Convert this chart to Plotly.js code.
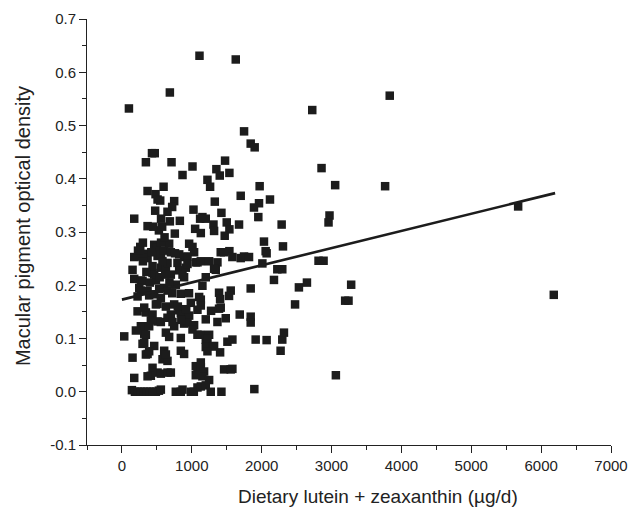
<!DOCTYPE html>
<html>
<head>
<meta charset="utf-8">
<script src="https://cdn.plot.ly/plotly-3.0.1.min.js"></script>
<style>html,body{margin:0;padding:0;background:#fff}#chart{width:638px;height:508px}</style>
</head>
<body>
<div id="chart"></div>
<script>
// Dietary lutein + zeaxanthin (µg/d)
var intakeX = [
100,686,1110,1629,2724,3833,1748,1843,1900,2857,3052,3767,2971,2957,5671,2814,2886,3281,3195,3243,3062,6181,
343,430,470,710,867,1010,1224,1262,1352,1400,1476,1538,1329,1700,1971,2119,1962,1890,1952,2286,1676,2033,2305,2057,
176,367,481,510,596,548,748,719,476,652,367,529,576,686,829,757,1024,1048,1129,1152,1200,1310,1319,1424,1500,1538,1471,1119,
262,462,500,676,962,1010,1033,1414,1462,1538,1581,1700,1748,1819,2071,2010,
176,248,319,367,420,510,560,600,700,760,820,890,938,1057,1081,1129,1248,1367,1343,1319,2224,2295,2176,2533,2648,2478,
152,176,271,295,438,438,462,486,557,629,652,700,795,819,867,890,914,938,1200,1152,771,605,533,652,843,248,271,367,390,224,462,557,1105,1129,1390,1405,1557,1533,1843,
224,343,319,486,510,629,438,700,748,819,843,867,962,986,1081,1129,1276,1390,1414,1367,1486,1686,1843,1843,414,510,557,652,724,748,890,938,1033,1200,271,390,
33,200,319,343,629,676,843,1010,1081,1129,1200,1248,1224,1510,1581,1914,2071,2295,2319,2271,295,319,462,605,843,890,1200,1295,1319,1405,1224,152,343,367,581,652,629,390,
438,414,367,510,557,652,700,176,1057,1081,1129,1129,1176,1152,1248,1462,1557,1581,1057,
143,186,229,271,314,357,400,443,486,529,557,771,843,867,986,1029,1081,1129,1200,1271,1424,1895,
230,300,350,400,540,580,620,680,720,800,850,920,960,560,610,300,450,560
];
// Macular pigment optical density
var mpodY = [
0.532,0.562,0.631,0.624,0.529,0.556,0.489,0.466,0.459,0.420,0.388,0.386,0.331,0.318,0.348,0.246,0.246,0.201,0.171,0.171,0.031,0.182,
0.431,0.448,0.448,0.431,0.407,0.423,0.398,0.385,0.418,0.406,0.434,0.411,0.357,0.368,0.386,0.361,0.354,0.346,0.328,0.314,0.314,0.282,0.273,0.264,
0.325,0.377,0.371,0.361,0.385,0.359,0.358,0.347,0.340,0.338,0.311,0.303,0.310,0.320,0.321,0.297,0.342,0.306,0.298,0.328,0.325,0.314,0.302,0.336,0.318,0.305,0.293,0.325,
0.272,0.276,0.270,0.278,0.278,0.272,0.262,0.262,0.262,0.264,0.253,0.251,0.254,0.253,0.260,0.241,
0.253,0.254,0.259,0.251,0.262,0.255,0.258,0.265,0.262,0.260,0.258,0.253,0.254,0.243,0.243,0.245,0.245,0.243,0.229,0.231,0.230,0.230,0.210,0.196,0.205,0.164,
0.229,0.212,0.209,0.208,0.236,0.223,0.220,0.209,0.233,0.234,0.242,0.220,0.242,0.228,0.220,0.215,0.233,0.240,0.215,0.199,0.201,0.195,0.193,0.190,0.184,0.195,0.190,0.189,0.181,0.179,0.183,0.176,0.178,0.173,0.186,0.174,0.190,0.180,0.194,
0.151,0.149,0.158,0.164,0.165,0.160,0.145,0.145,0.164,0.153,0.148,0.151,0.143,0.167,0.154,0.162,0.152,0.156,0.158,0.131,0.138,0.145,0.141,0.130,0.134,0.132,0.131,0.139,0.131,0.123,0.128,0.130,0.125,0.136,0.123,0.123,
0.104,0.115,0.109,0.107,0.111,0.103,0.101,0.117,0.107,0.107,0.098,0.107,0.099,0.094,0.098,0.098,0.097,0.098,0.111,0.077,0.090,0.092,0.086,0.077,0.077,0.071,0.084,0.085,0.086,0.074,0.076,0.064,0.070,0.071,0.061,0.058,0.070,0.076,
0.045,0.030,0.029,0.036,0.034,0.036,0.036,0.026,0.048,0.042,0.055,0.046,0.038,0.029,0.022,0.042,0.042,0.043,0.031,
0.003,0.000,0.000,0.000,0.000,0.000,0.000,0.000,0.000,0.002,0.004,0.000,0.000,0.004,0.000,0.000,0.008,0.010,0.012,0.000,0.000,0.005,
0.265,0.245,0.225,0.205,0.215,0.245,0.220,0.205,0.185,0.160,0.135,0.155,0.185,0.280,0.290,0.280,0.310,0.325
];
// Regression line end points
var fitX = [0, 6200];
var fitY = [0.173, 0.373];

var xTickVals = [0,1000,2000,3000,4000,5000,6000,7000];
var xTickText = ['0','1000','2000','3000','4000','5000','6000','7000'];
var yTickVals = [-0.1,0.0,0.1,0.2,0.3,0.4,0.5,0.6,0.7];
var yTickText = ['-0.1','0.0','0.1','0.2','0.3','0.4','0.5','0.6','0.7'];

var ink = '#1c1c1c';
var traces = [
  {x: intakeX, y: mpodY, type: 'scatter', mode: 'markers',
   marker: {symbol: 'square', size: 8.5, color: ink}, hoverinfo: 'x+y'},
  {x: fitX, y: fitY, type: 'scatter', mode: 'lines',
   line: {color: ink, width: 2.6}}
];
var font = {family: 'Liberation Sans, Arial, sans-serif', size: 15, color: '#222'};
var layout = {
  width: 638, height: 508,
  margin: {l: 87, r: 27, t: 19, b: 63},
  paper_bgcolor: '#fff', plot_bgcolor: '#fff',
  showlegend: false,
  font: font,
  xaxis: {range: [-500, 7000], tickvals: xTickVals, ticktext: xTickText, ticks: 'outside', ticklen: 7, tickwidth: 1,
    tickcolor: '#222', showline: true, linecolor: '#222', linewidth: 1, showgrid: false, zeroline: false,
    minor: {ticks: 'outside', ticklen: 4, tickcolor: '#222', dtick: 500, tick0: 0, showgrid: false},
    tickfont: font},
  yaxis: {range: [-0.1, 0.7], tickvals: yTickVals, ticktext: yTickText, ticks: 'outside', ticklen: 7, tickwidth: 1,
    tickcolor: '#222', showline: true, linecolor: '#222', linewidth: 1, showgrid: false, zeroline: false,
    minor: {ticks: 'outside', ticklen: 4, tickcolor: '#222', dtick: 0.05, tick0: 0, showgrid: false},
    tickfont: font},
  annotations: [
    {text: 'Dietary lutein + zeaxanthin (\u00b5g/d)', xref: 'paper', yref: 'paper', x: 0.555, y: -0.12,
     xanchor: 'center', yanchor: 'middle', showarrow: false,
     font: {family: 'Liberation Sans, Arial, sans-serif', size: 19, color: '#222'}},
    {text: 'Macular pigment optical density', xref: 'paper', yref: 'paper', x: -0.122, y: 0.514,
     xanchor: 'center', yanchor: 'middle', textangle: -90, showarrow: false,
     font: {family: 'Liberation Sans, Arial, sans-serif', size: 20, color: '#222'}}
  ]
};
Plotly.newPlot('chart', traces, layout, {displayModeBar: false, staticPlot: true});
</script>
</body>
</html>
